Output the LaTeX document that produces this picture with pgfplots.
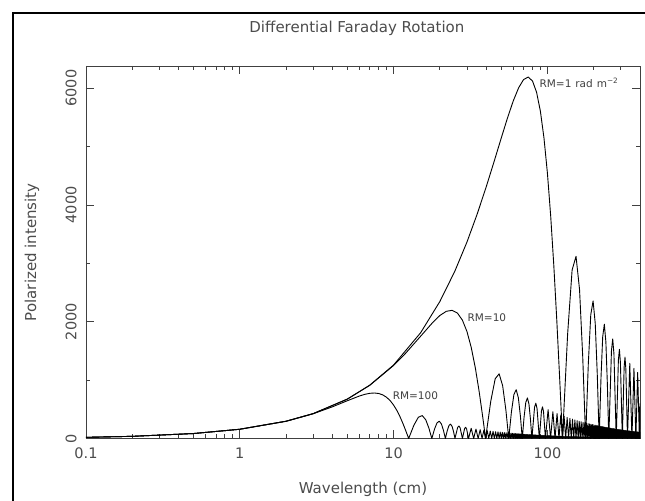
\documentclass[border=0pt]{standalone}
\usepackage{pgfplots}
\pgfplotsset{compat=1.18}
\usepackage{fontspec}
\setmainfont{DejaVu Sans}
\begin{document}
\begin{tikzpicture}
\useasboundingbox (0,0) rectangle (645bp,501bp);
\fill[white] (0,0) rectangle (645bp,501bp);
\draw[line width=1.6bp] (13bp,-5bp) -- (13bp,488bp) -- (650bp,488bp);
\begin{axis}[
  at={(86bp,62.5bp)}, anchor=south west,
  scale only axis, width=554bp, height=372.5bp,
  xmode=log, xmin=0.1, xmax=400, ymin=0, ymax=6380,
  axis line style={black!75, line width=0.8bp},
  every tick/.style={black!75, line width=0.8bp},
  major tick length=8.5bp, minor tick length=4.5bp,
  xtick={0.1,1,10,100}, xticklabels={0.1,1,10,100},
  minor xtick={0.2,0.3,0.4,0.5,0.6,0.7,0.8,0.9,2,3,4,5,6,7,8,9,20,30,40,50,60,70,80,90,200,300},
  ytick={0,2000,4000,6000}, yticklabels={0,2000,4000,6000},
  minor ytick={1000,3000,5000},
  tick label style={font=\fontsize{14.5bp}{17bp}\selectfont, text=black!70},
  xticklabel shift=5.5bp,
  yticklabel style={rotate=90, anchor=south},
  yticklabel shift=6bp,
  title={Differential Faraday Rotation},
  title style={at={(axis description cs:0.489,1.086)}, anchor=center, font=\fontsize{15bp}{18bp}\selectfont, text=black!70},
  xlabel={Wavelength (cm)},
  xlabel style={at={(axis description cs:0.5,-0.1356)}, anchor=center, font=\fontsize{15bp}{18bp}\selectfont, text=black!70},
  ylabel={Polarized intensity},
  ylabel style={at={(axis description cs:-0.0975,0.5)}, anchor=center, font=\fontsize{15bp}{18bp}\selectfont, text=black!70},
  curve/.style={black, line width=0.9bp, line join=round, mark=none},
]
% RM = 1
\addplot[curve] coordinates {
(0.1,20.0) (0.2,37.2) (0.5,85.0) (1,158.5) (2,295.7) (3,426.0) (5,674.6) (7,913.1) (10,1258.8) (15,1812.9) (20,2347.1) (25,2864.2) (30,3365.6) (35,3848.9) (40,4309.4) (45,4741.9) (50,5138.4) (55,5489.1) (60,5783.1) (65,6006.8) (70,6147.4) (75,6190.8) (80,6123.1) (85,5931.3) (90,5608.0) (95,5145.9) (100,4546.5) (105,3817.3) (110,2974.0) (115,2041.1) (120,1058.1) (122.5,559.5) (125.33,0)
(135.373,1791.7) (144.720,2883.4) (153.499,3120.7) (161.802,2550.4) (169.700,1397.3) (177.245,0)
(184.483,1274.7) (191.447,2119.6) (198.166,2356.4) (204.665,1969.5) (210.964,1099.8) (217.080,0)
(223.029,1034.6) (228.823,1742.1) (234.474,1958.3) (239.991,1653.1) (245.385,931.4) (250.663,0)
(260.898,1507.8) (265.868,1705.3) (270.747,1447.6) (280.250,0)
(289.441,1345.1) (293.928,1527.2) (298.348,1301.0) (306.998,0)
(315.411,1223.8) (319.534,1393.1) (323.604,1189.8) (331.596,0)
(343.234,1287.8) (354.491,0)
(365.401,1202.2) (375.994,0)
(386.297,1130.8) (396.333,0)
(400,600.2)
};
% RM = 10
\addplot[curve] coordinates {
(0.1,20.0) (0.2,37.2) (0.5,85.0) (1,158.5) (2,295.7) (3,426.0) (5,674.3) (7,911.6) (10,1250.5) (12,1463.0) (15,1752.9) (18,1990.0) (20,2106.9) (22,2178.3) (24,2195.3) (26,2147.9) (28,2028.1) (30,1830.7) (32,1555.5) (34,1208.4) (36,803.6) (38,363.7) (39.633,0)
(42.809,635.7) (45.764,1023.1) (48.541,1107.3) (51.167,904.9) (53.664,495.8) (56.050,0)
(58.338,452.3) (60.541,752.1) (62.666,836.1) (64.721,698.8) (66.713,390.2) (68.647,0)
(70.528,367.1) (72.360,618.1) (74.147,694.9) (75.892,586.6) (77.598,330.5) (79.267,0)
(82.503,535.1) (84.075,605.1) (85.618,513.7) (88.623,0)
(91.529,477.3) (92.948,541.9) (94.346,461.7) (97.081,0)
(101.045,494.3) (104.860,0)
(108.540,456.9) (112.100,0)
(115.550,426.5) (118.900,0)
(122.158,401.2) (125.331,0)
(128.426,379.7) (131.448,0)
(134.402,361.2) (137.294,0)
(140.125,345.0) (142.900,0)
(145.622,330.7) (148.294,0)
(150.919,318.0) (153.499,0)
(156.037,306.5) (158.533,0)
(160.991,296.1) (163.413,0)
(165.798,286.7) (168.150,0)
(170.469,278.1) (172.758,0)
(175.016,270.1) (177.246,0)
(179.447,262.8) (181.622,0)
(183.772,256.0) (185.897,0)
(187.997,249.7) (190.075,0)
(192.129,243.8) (194.164,0)
(196.175,238.3) (198.167,0)
(200.139,233.1) (202.093,0)
(204.025,228.2) (205.941,0)
(207.839,223.6) (209.719,0)
(211.584,219.3) (213.431,0)
(215.264,215.1) (217.080,0)
};
% RM = 10, unresolved lobes
\addplot[fill=black, draw=black, line width=0.4bp] coordinates {
(217.08,0) (217.08,213.1) (250,182.5) (300,149.3) (350,126.0) (400,108.8) (400,0)
} -- cycle;
% RM = 100
\addplot[curve] coordinates {
(0.1,20.0) (0.2,37.2) (0.5,85.0) (1,158.5) (2,295.4) (3,423.7) (4,542.5) (5,646.8) (6,728.2) (6.5,756.4) (7,773.8) (7.5,779.4) (8,770.8) (8.5,746.8) (9,706.0) (9.5,647.9) (10,572.4) (10.5,480.5) (11,374.3) (11.5,256.9) (12,133.2) (12.533,0)
(13.537,225.5) (14.472,363.0) (15.350,392.9) (16.180,321.1) (16.970,175.9) (17.725,0)
(18.448,160.5) (19.145,266.8) (19.817,296.6) (20.467,247.9) (21.097,138.4) (21.708,0)
(22.303,130.2) (22.882,219.3) (23.447,246.5) (23.999,208.1) (24.539,117.3) (25.066,0)
(26.090,189.9) (26.587,214.7) (27.075,182.3) (28.025,0)
(28.944,169.3) (29.393,192.3) (29.835,163.8) (30.700,0)
(31.953,175.4) (33.160,0)
(34.323,162.1) (35.449,0)
(36.540,151.3) (37.599,0)
(38.630,142.3) (39.633,0)
(40.612,134.7) (41.568,0)
(42.501,128.2) (43.417,0)
(44.312,122.4) (45.189,0)
(46.050,117.3) (46.894,0)
(47.724,112.8) (48.541,0)
(49.343,108.7) (50.132,0)
(50.909,105.1) (51.676,0)
(52.430,101.7) (53.173,0)
(53.907,98.7) (54.630,0)
(55.345,95.8) (56.050,0)
(56.746,93.2) (57.434,0)
(58.114,90.8) (58.786,0)
(59.450,88.6) (60.107,0)
(60.757,86.5) (61.400,0)
(62.036,84.5) (62.666,0)
(63.290,82.7) (63.907,0)
(64.518,81.0) (65.124,0)
(65.725,79.3) (66.319,0)
(66.908,77.8) (67.493,0)
(68.073,76.3) (68.647,0)
};
% RM = 100, unresolved lobes
\addplot[fill=black, draw=black, line width=0.4bp] coordinates {
(68.647,0) (68.647,75.6) (80,63.9) (100,50.0) (125,39.1) (150,32.0) (200,23.3) (250,18.2) (300,14.9) (400,10.9) (400,0)
} -- cycle;
\node[anchor=west, inner sep=0, font=\fontsize{10.5bp}{12bp}\selectfont, text=black!75] at (axis cs:88.7,6086) {RM=1\hspace{4bp}rad\hspace{4bp}m\textsuperscript{−2}};
\node[anchor=west, inner sep=0, font=\fontsize{10.5bp}{12bp}\selectfont, text=black!75] at (axis cs:30.2,2063) {RM=10};
\node[anchor=west, inner sep=0, font=\fontsize{10.5bp}{12bp}\selectfont, text=black!75] at (axis cs:9.85,727.5) {RM=100};
\end{axis}
\end{tikzpicture}
\end{document}
